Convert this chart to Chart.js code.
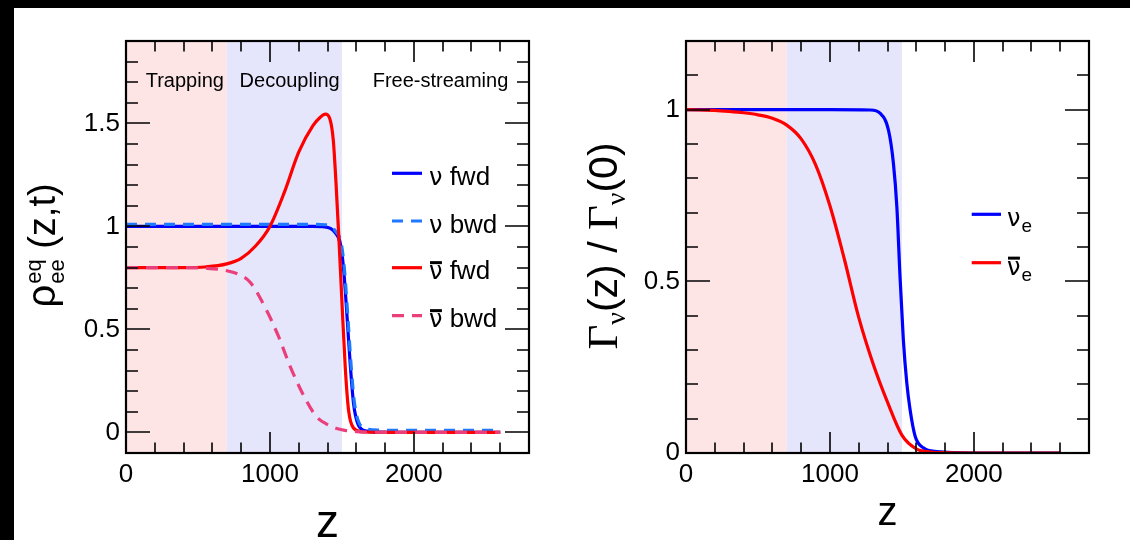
<!DOCTYPE html>
<html>
<head>
<meta charset="utf-8">
<script src="https://cdn.jsdelivr.net/npm/chart.js@4.4.1/dist/chart.umd.min.js"></script>
<style>
  html, body { margin: 0; padding: 0; background: #fff; }
  #pagina { position: relative; width: 1130px; height: 540px; background: #fff; overflow: hidden; }
  .caixa { position: absolute; top: 0; width: 565px; height: 540px; }
  #tarjaTopo { position: absolute; left: 0; top: 0; width: 1130px; height: 8px; background: #000; }
  #tarjaEsq { position: absolute; left: 0; top: 0; width: 14px; height: 540px; background: #000; }
</style>
</head>
<body>
<div id="pagina">
  <div class="caixa" style="left:0"><canvas id="grafEsq" width="565" height="540"></canvas></div>
  <div class="caixa" style="left:565px"><canvas id="grafDir" width="565" height="540"></canvas></div>
  <div id="tarjaTopo"></div>
  <div id="tarjaEsq"></div>
</div>
<script>
// ---- dados ----
// painel esquerdo: rho_ee^eq(z,t)
const zNuFwd = [0, 500, 1000, 1300, 1380, 1420, 1453, 1488, 1511, 1535, 1558, 1581, 1615, 1674, 1750, 2000, 2600];
const nuFwd  = [1, 1, 1, 1, 0.998, 0.99, 0.97, 0.92, 0.80, 0.57, 0.33, 0.14, 0.035, 0.006, 0.001, 0, 0];

const zNuBwd = [0, 500, 1000, 1300, 1385, 1425, 1458, 1493, 1516, 1540, 1563, 1586, 1620, 1680, 1760, 2000, 2600];
const nuBwd  = [1.01, 1.01, 1.01, 1.01, 1.008, 1.0, 0.975, 0.925, 0.805, 0.575, 0.335, 0.15, 0.045, 0.016, 0.011, 0.01, 0.01];

const zNubFwd = [0, 400, 550, 700, 800, 900, 1000, 1100, 1200, 1300, 1350, 1385, 1415, 1440, 1460, 1480, 1500, 1523, 1546, 1580, 1650, 2000, 2600];
const nubFwd  = [0.8, 0.8, 0.803, 0.818, 0.845, 0.905, 1.0, 1.165, 1.36, 1.49, 1.53, 1.545, 1.525, 1.42, 1.2, 0.93, 0.64, 0.32, 0.11, 0.022, 0.002, 0, 0];

const zNubBwd = [0, 400, 550, 700, 800, 864, 975, 1062, 1136, 1235, 1322, 1400, 1458, 1520, 1600, 1700, 2000, 2600];
const nubBwd  = [0.8, 0.8, 0.797, 0.785, 0.762, 0.728, 0.595, 0.462, 0.328, 0.178, 0.078, 0.038, 0.02, 0.01, 0.004, 0.001, 0, 0];

const rotulosEsq = ['ν fwd', 'ν bwd', 'ν fwd', 'ν bwd'];
const barraEsq = [false, false, true, true];

// painel direito: Gamma_nu(z) / Gamma_nu(0)
const zNuE = [0, 500, 1000, 1280, 1350, 1407, 1441, 1465, 1487, 1510, 1534, 1557, 1592, 1649, 1742, 2000, 2600];
const nuE  = [1, 1, 1, 0.999, 0.989, 0.94, 0.844, 0.717, 0.514, 0.33, 0.204, 0.126, 0.049, 0.015, 0.004, 0, 0];

const zNubE = [0, 100, 200, 300, 400, 500, 600, 700, 800, 900, 1000, 1100, 1200, 1300, 1400, 1500, 1600, 1700, 1800, 2000, 2600];
const nubE  = [1, 0.999, 0.998, 0.995, 0.991, 0.985, 0.975, 0.955, 0.915, 0.84, 0.72, 0.565, 0.395, 0.26, 0.148, 0.052, 0.012, 0.003, 0.001, 0, 0];

const rotulosDir = ['ν', 'ν'];
const subDir = ['e', 'e'];
const barraDir = [false, true];

// regioes e marcas
const regioes = ['Trapping', 'Decoupling', 'Free-streaming'];
const limitesRegioes = [0, 700, 1500];
const xMaiores = [0, 1000, 2000];
const yMaioresEsq = [0, 0.5, 1, 1.5];
const yMaioresDir = [0, 0.5, 1];

// ---- desenho ----
const SANS = '"Liberation Sans", Arial, Helvetica, sans-serif';
const SERIF = '"Liberation Serif", "Times New Roman", serif';
const GREGO = '"DejaVu Sans", sans-serif';
Chart.defaults.font.family = SANS;
Chart.defaults.color = '#000';

function pontos(zs, vs) {
  return zs.map((z, i) => ({ x: z, y: vs[i] }));
}

function rotuloSe(v, maiores) {
  for (const m of maiores) {
    if (Math.abs(v - m) < 1e-6) return String(m);
  }
  return '';
}

// escreve nu, com barra opcional e subscrito opcional
function escreveNu(ctx, x, base, tam, barra, sub, resto) {
  ctx.font = (tam - 2) + 'px ' + GREGO;
  const w = ctx.measureText('ν').width;
  ctx.fillText('ν', x, base);
  if (barra) {
    ctx.fillRect(x + 1, base - tam * 0.56 - 3.5, w - 1.5, 3);
  }
  const u = x + w;
  if (sub) {
    ctx.font = Math.round(tam * 0.72) + 'px ' + SANS;
    ctx.fillText(sub, u + 1, base + 6);
  }
  if (resto) {
    ctx.font = tam + 'px ' + SANS;
    ctx.fillText(resto, u, base);
  }
}

const quadro = {
  id: 'quadro',
  beforeDatasetsDraw(chart, args, o) {
    const { ctx, chartArea: a } = chart;
    const x = chart.scales.x, y = chart.scales.y;
    ctx.save();
    const cores = ['#fde5e5', '#e5e5fb'];
    for (let i = 0; i < 2; i++) {
      const x0 = x.getPixelForValue(limitesRegioes[i]);
      const x1 = x.getPixelForValue(limitesRegioes[i + 1]);
      ctx.fillStyle = cores[i];
      ctx.fillRect(x0, a.top, x1 - x0, a.bottom - a.top);
    }
    if (o.regioes) {
      ctx.fillStyle = '#000';
      ctx.font = '20px ' + SANS;
      ctx.textBaseline = 'alphabetic';
      const zs = [137, 789, 1714];
      regioes.forEach((r, i) => {
        ctx.fillText(r, x.getPixelForValue(zs[i]), y.getPixelForValue(1.675));
      });
    }
    ctx.restore();
  },
  afterDatasetsDraw(chart) {
    const { ctx, chartArea: a } = chart;
    const x = chart.scales.x, y = chart.scales.y;
    ctx.save();
    ctx.strokeStyle = '#000';
    ctx.lineWidth = 1.6;
    ctx.beginPath();
    x.ticks.forEach(t => {
      const px = Math.round(x.getPixelForValue(t.value));
      const L = t.label !== '' ? 21 : 10.5;
      ctx.moveTo(px, a.bottom); ctx.lineTo(px, a.bottom - L);
      ctx.moveTo(px, a.top); ctx.lineTo(px, a.top + L);
    });
    y.ticks.forEach(t => {
      const py = Math.round(y.getPixelForValue(t.value));
      const L = t.label !== '' ? 24 : 12;
      ctx.moveTo(a.left, py); ctx.lineTo(a.left + L, py);
      ctx.moveTo(a.right, py); ctx.lineTo(a.right - L, py);
    });
    ctx.stroke();
    ctx.lineWidth = 2.2;
    ctx.strokeRect(a.left, a.top, a.right - a.left, a.bottom - a.top);
    ctx.restore();
  },
  afterDraw(chart, args, o) {
    const ctx = chart.ctx;
    const a = chart.chartArea;
    ctx.save();
    ctx.fillStyle = '#000';
    ctx.strokeStyle = '#000';
    ctx.textBaseline = 'alphabetic';
    // legenda
    const L = o.legenda;
    chart.data.datasets.forEach((ds, i) => {
      const yy = L.ys[i];
      ctx.save();
      ctx.strokeStyle = ds.borderColor;
      ctx.lineWidth = 3.2;
      ctx.setLineDash(ds.borderDash || []);
      ctx.beginPath();
      ctx.moveTo(L.x0, yy); ctx.lineTo(L.x1, yy);
      ctx.stroke();
      ctx.restore();
      escreveNu(ctx, L.xt, yy + L.db, L.tam, L.barra[i], L.sub ? L.sub[i] : '', L.resto ? L.resto[i] : '');
    });
    // titulo do eixo x
    ctx.font = o.zTam + 'px ' + SANS;
    ctx.textAlign = 'center';
    ctx.fillText('z', (a.left + a.right) / 2, o.zBase);
    ctx.textAlign = 'left';
    // titulo do eixo y
    o.tituloY(ctx);
    ctx.restore();
  }
};

function tituloEsq(ctx) {
  ctx.save();
  ctx.translate(55, 246);
  ctx.rotate(-Math.PI / 2);
  const fR = '40px ' + SANS, fM = '38px ' + SANS, fS = '22px ' + SANS;
  ctx.font = fR;
  const wRho = ctx.measureText('ρ').width;
  ctx.font = fM;
  const wPar = ctx.measureText(' (z,t)').width;
  ctx.font = fS;
  const wSub = Math.max(ctx.measureText('ee').width, ctx.measureText('eq').width);
  let u = -(wRho + wSub + wPar) / 2;
  ctx.font = fR; ctx.fillText('ρ', u, 0); u += wRho;
  ctx.font = fS; ctx.fillText('eq', u + 1, -14); ctx.fillText('ee', u + 1, 9); u += wSub + 1;
  ctx.font = fM; ctx.fillText(' (z,t)', u, 0);
  ctx.restore();
}

function tituloDir(ctx) {
  ctx.save();
  ctx.translate(52, 246);
  ctx.rotate(-Math.PI / 2);
  const partes = [
    ['Γ', '43px ' + SERIF, 0],
    ['ν', '28px ' + SERIF, 8],
    ['(z) / ', '41px ' + SANS, 0],
    ['Γ', '43px ' + SERIF, 0],
    ['ν', '28px ' + SERIF, 8],
    ['(0)', '41px ' + SANS, 0]
  ];
  let total = 0;
  partes.forEach(p => { ctx.font = p[1]; total += ctx.measureText(p[0]).width; });
  let u = -total / 2;
  partes.forEach(p => {
    ctx.font = p[1];
    ctx.fillText(p[0], u, p[2]);
    u += ctx.measureText(p[0]).width;
  });
  ctx.restore();
}

function opcoes(c) {
  return {
    responsive: false,
    animation: false,
    devicePixelRatio: 1,
    layout: { padding: { top: 41, right: c.dir, left: 0, bottom: 0 } },
    elements: {
      point: { radius: 0 },
      line: { borderWidth: 3.2, cubicInterpolationMode: 'monotone' }
    },
    plugins: {
      legend: { display: false },
      tooltip: { enabled: false },
      quadro: c.quadro
    },
    scales: {
      x: {
        type: 'linear', min: 0, max: 2800,
        afterFit: s => { s.height = 87; },
        grid: { display: false, drawTicks: false }, border: { display: false },
        ticks: {
          stepSize: 200, autoSkip: false, maxRotation: 0, padding: 6,
          font: { size: 26 }, color: '#000',
          callback: v => rotuloSe(v, xMaiores)
        }
      },
      y: {
        type: 'linear', min: c.ymin, max: c.ymax,
        afterFit: s => { s.width = c.largY; },
        grid: { display: false, drawTicks: false }, border: { display: false },
        ticks: {
          stepSize: 0.1, autoSkip: false, padding: 6,
          font: { size: 26 }, color: '#000',
          callback: v => rotuloSe(v, c.maiores)
        }
      }
    }
  };
}

new Chart(document.getElementById('grafEsq'), {
  type: 'line',
  data: {
    datasets: [
      { label: rotulosEsq[0], data: pontos(zNuFwd, nuFwd), borderColor: '#0000ff', borderWidth: 3.2, order: 4 },
      { label: rotulosEsq[1], data: pontos(zNuBwd, nuBwd), borderColor: '#1f78ff', borderWidth: 3.2, borderDash: [11, 8], order: 3 },
      { label: rotulosEsq[2], data: pontos(zNubFwd, nubFwd), borderColor: '#ff0000', borderWidth: 3.2, order: 2 },
      { label: rotulosEsq[3], data: pontos(zNubBwd, nubBwd), borderColor: '#ea3f7a', borderWidth: 3.2, borderDash: [12, 8], order: 1 }
    ]
  },
  options: opcoes({
    dir: 36, largY: 126, ymin: -0.1, ymax: 1.9, maiores: yMaioresEsq,
    quadro: {
      regioes: true,
      legenda: {
        x0: 392, x1: 422, xt: 429, db: 11.5, tam: 26,
        ys: [173.3, 221, 267.7, 315.7],
        barra: barraEsq,
        resto: rotulosEsq.map(r => r.slice(1))
      },
      zTam: 46, zBase: 537,
      tituloY: tituloEsq
    }
  }),
  plugins: [quadro]
});

new Chart(document.getElementById('grafDir'), {
  type: 'line',
  data: {
    datasets: [
      { label: rotulosDir[0] + subDir[0], data: pontos(zNuE, nuE), borderColor: '#0000ff', borderWidth: 3.2, order: 2 },
      { label: rotulosDir[1] + subDir[1], data: pontos(zNubE, nubE), borderColor: '#ff0000', borderWidth: 3.2, order: 1 }
    ]
  },
  options: opcoes({
    dir: 41, largY: 121, ymin: 0, ymax: 1.2, maiores: yMaioresDir,
    quadro: {
      regioes: false,
      legenda: {
        x0: 406.7, x1: 436, xt: 442, db: 12, tam: 26,
        ys: [214.3, 262.7],
        barra: barraDir,
        sub: subDir
      },
      zTam: 40, zBase: 525,
      tituloY: tituloDir
    }
  }),
  plugins: [quadro]
});
</script>
</body>
</html>
